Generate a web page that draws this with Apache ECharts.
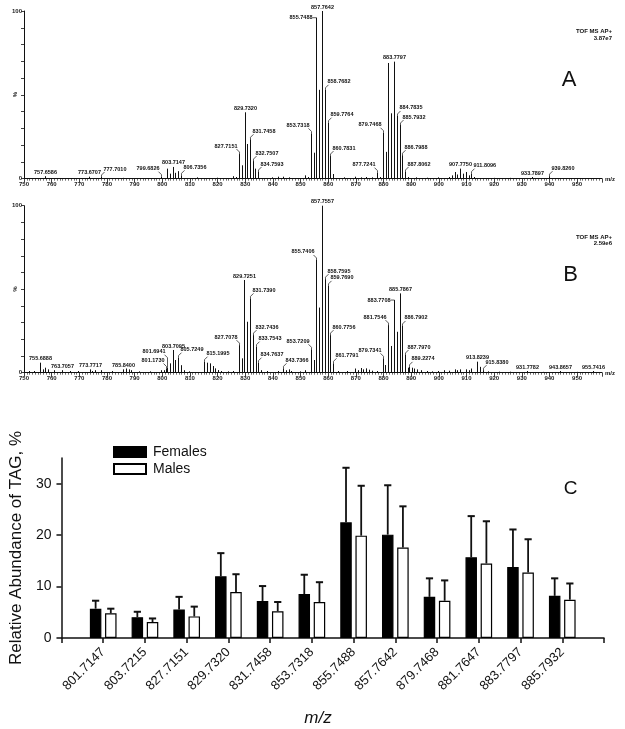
<!DOCTYPE html>
<html><head><meta charset="utf-8">
<script src="https://cdn.jsdelivr.net/npm/echarts@6/dist/echarts.min.js"></script>
<style>html,body{margin:0;padding:0;background:#fff}#c{width:625px;height:729px}</style>
</head><body><div id="c"></div>
<script>
const FONT = '"Liberation Sans", Arial, Helvetica, sans-serif';

// ---------- Panel A spectrum ----------
const peaksA_mz = [757.6586,773.6707,777.7010,785.7,799.6826,801.7,802.7,803.7147,804.7,805.7,806.7356,812.7,819.7,825.7,826.7,827.7151,828.7,829.7320,830.7,831.7458,832.7507,833.7,834.7593,839.7,841.7,843.7,845.7,851.7,852.7,853.7318,854.7,855.7488,856.75,857.7642,858.7682,859.7764,860.7831,861.8,865.7,869.7,871.7,873.7,875.7,877.7241,878.7,879.7468,880.75,881.78,882.78,883.7797,884.7835,885.7932,886.7988,887.8062,888.8,891.7,895.7,899.7,903.7,904.7,905.7,906.7,907.7750,908.8,909.8,910.8,911.8096,912.8,919.8,925.8,933.7897,939.8260];
const peaksA_int = [1.5,1.2,1.0,0.5,1.2,6,3,7,3.5,4.5,2,0.8,0.6,1.5,1,14.7,8,39.6,20.7,23.5,10.5,6,4,0.8,1.2,1.2,0.8,2,1,27,15.5,96,53,100,53,33.4,13.5,2.8,0.8,1.2,0.8,1,0.8,3.6,1,27.4,16,69,39,69.8,37.4,32,14,4,1,0.8,0.6,0.8,1,2,4,2.5,6,3,4,2,3,1,0.5,0.5,1,1.5];
const labelsA_mz = [757.6586,773.6707,777.7010,799.6826,803.7147,806.7356,827.7151,829.7320,831.7458,832.7507,834.7593,853.7318,855.7488,857.7642,858.7682,859.7764,860.7831,877.7241,879.7468,883.7797,884.7835,885.7932,886.7988,887.8062,907.7750,911.8096,933.7897,939.8260];
const labelsA_side = ['T','T','R','L','T','R','L','T','R','R','R','L','H','T','R','R','R','L','L','T','R','R','R','R','T','R','T','R'];

// ---------- Panel B spectrum ----------
const peaksB_mz = [751.7,753.7,755.6888,756.7,757.7,758.7,760.7,763.7057,766.7,769.7,773.7717,774.7,775.7,777.7,781.7,785.8400,786.8,787.8,788.8,791.7,795.7,799.7,800.7,801.1730,801.6941,802.7,803.7095,804.7,805.7249,806.7,807.7,809.7,815.1995,816.2,817.2,818.2,819.2,820.2,821.2,823.7,825.7,827.7078,828.7,829.7251,830.7,831.7390,832.7436,833.7543,834.7637,835.7,837.7,841.7,843.7366,844.7,845.7,846.7,849.7,851.7,853.7209,854.7,855.7406,856.75,857.7557,858.7595,859.7690,860.7756,861.7791,863.7,866.7,869.7,870.7,871.7,872.7,873.7,874.7,875.7,877.7,879.7341,880.7,881.7546,882.76,883.7708,884.78,885.7867,886.7902,887.7970,888.8,889.2274,890.2,891.2,892.2,893.7,895.7,897.7,899.7,901.7,903.7,905.7,906.7,907.7,909.7,910.8,911.8,913.8239,914.8,915.8380,917.8,921.8,925.8,931.7782,937.8,943.8657,949.8,955.7416];
const peaksB_int = [1,1,6,2,3,2,1.5,1.5,1,1,2,1,1.5,1.5,1,2,2.5,2,1.5,0.8,0.8,1.5,1.5,2.5,3,5.6,13.6,7.6,9,4.5,1.5,0.8,6.6,6,5.6,4,2.6,1.6,1,0.8,1,16.5,8.6,55.5,30.5,44.5,22.5,15.6,6,1.5,1,1,2.6,1.5,2,1,0.8,1.5,14,7.6,67.5,39,100,56,52,22.5,5.6,1,1,2.5,1.5,2.8,2,2.6,1.8,1.2,1,8.6,4.6,28.5,16,43.5,24.5,47.5,28,10.6,3,3.5,3,2.5,2,1.5,1,0.8,1,1.5,1.2,2,1.5,2,2,1.5,2.5,6.6,3.5,1.5,0.8,0.6,0.6,1,0.5,1,0.5,1];
const labelsB_mz = [755.6888,763.7057,773.7717,785.8400,801.1730,801.6941,803.7095,805.7249,815.1995,827.7078,829.7251,831.7390,832.7436,833.7543,834.7637,843.7366,853.7209,855.7406,857.7557,858.7595,859.7690,860.7756,861.7791,879.7341,881.7546,883.7708,885.7867,886.7902,887.7970,889.2274,913.8239,915.8380,931.7782,943.8657,955.7416];
const labelsB_side = ['T','T','T','T','L','L2','T','R','R','L','T','R','R','R','R','R','L','L','T','R','R','R','R','L','L','H','T','R','R','R','T','R','T','T','T'];

// ---------- Panel C bars ----------
const categories = ['801.7147','803.7215','827.7151','829.7320','831.7458','853.7318','855.7488','857.7642','879.7468','881.7647','883.7797','885.7932'];
const females    = [5.7, 4.05, 5.55, 12.0, 7.2, 8.55, 22.5, 20.1, 8.0, 15.7, 13.8, 8.2];
const femalesErr = [7.25, 5.1, 8.0, 16.5, 10.1, 12.3, 33.1, 29.7, 11.6, 23.7, 21.1, 11.6];
const males      = [4.8, 3.1, 4.2, 8.95, 5.2, 7.0, 19.9, 17.6, 7.25, 14.5, 12.75, 7.45];
const malesErr   = [5.7, 3.8, 6.1, 12.4, 7.0, 10.85, 29.6, 25.6, 11.2, 22.7, 19.2, 10.6];

const SIDES = ['', 'T', 'R', 'L', 'H', 'L2'];
function spectrumData(mz, inten, labMz, labSide) {
  return mz.map((m, i) => {
    const k = labMz.indexOf(m);
    return [m, inten[i], k >= 0 ? SIDES.indexOf(labSide[k]) : 0];
  });
}

const INK = '#111';
function renderPeak(params, api) {
  const m = api.value(0), v = api.value(1), side = api.value(2);
  const b = api.coord([m, 0]), t = api.coord([m, v]);
  const x = Math.round(b[0]) + 0.5;
  const y0 = b[1], y1 = t[1];
  const children = [{ type: 'line', shape: { x1: x, y1: y0, x2: x, y2: y1 }, style: { stroke: INK, lineWidth: 1 } }];
  if (side) {
    const txt = m.toFixed(4);
    const ts = { text: txt, fill: INK, fontSize: 5.5, fontWeight: 'bold', fontFamily: FONT };
    const lead = { stroke: INK, lineWidth: 0.7, fill: null };
    const s = SIDES[side];
    if (s === 'T') {
      children.push({ type: 'text', x: x, y: y1 - 1, style: Object.assign({ align: 'center', verticalAlign: 'bottom' }, ts) });
    } else if (s === 'R') {
      children.push({ type: 'polyline', shape: { points: [[x, y1], [x, y1 - 2], [x + 3, y1 - 5]] }, style: lead });
      children.push({ type: 'text', x: x + 2, y: y1 - 5, style: Object.assign({ align: 'left', verticalAlign: 'bottom' }, ts) });
    } else if (s === 'L' || s === 'L2') {
      const up = s === 'L2' ? 8 : 0;
      children.push({ type: 'polyline', shape: { points: [[x, y1], [x, y1 - 2 - up], [x - 3, y1 - 5 - up]] }, style: lead });
      children.push({ type: 'text', x: x - 2, y: y1 - 5 - up, style: Object.assign({ align: 'right', verticalAlign: 'bottom' }, ts) });
    } else if (s === 'H') {
      children.push({ type: 'polyline', shape: { points: [[x, y1], [x - 4, y1]] }, style: lead });
      children.push({ type: 'text', x: x - 4, y: y1, style: Object.assign({ align: 'right', verticalAlign: 'middle' }, ts) });
    }
  }
  return { type: 'group', children };
}

const BAR_W = 11.5, BAR_GAP = 0.32;
const HALF = BAR_W * (1 + BAR_GAP) / 2;
function renderErr(params, api) {
  const c = api.value(0), m = api.value(1), e = api.value(2), s = api.value(3);
  const p = api.coord([c, m]), q = api.coord([c, e]);
  const x = p[0] + s * HALF;
  return { type: 'group', children: [
    { type: 'line', shape: { x1: x, y1: p[1], x2: x, y2: q[1] }, style: { stroke: INK, lineWidth: 1.8 } },
    { type: 'line', shape: { x1: x - 3.6, y1: q[1], x2: x + 3.6, y2: q[1] }, style: { stroke: INK, lineWidth: 2 } }
  ] };
}

function specX(gi) {
  return {
    gridIndex: gi, type: 'value', min: 750, max: 959, interval: 10,
    axisLine: { lineStyle: { color: INK, width: 1 } },
    axisTick: { length: 4, lineStyle: { color: INK, width: 0.8 } },
    minorTick: { show: true, splitNumber: 10, length: 2, lineStyle: { color: INK, width: 0.6 } },
    splitLine: { show: false }, minorSplitLine: { show: false },
    axisLabel: { fontSize: 6, fontWeight: 'bold', color: '#222', fontFamily: FONT, margin: 3,
      formatter: v => (v % 10 === 0 && v <= 950) ? String(v) : '' }
  };
}
function specY(gi) {
  return {
    gridIndex: gi, type: 'value', min: 0, max: 100, interval: 10,
    axisLine: { show: true, lineStyle: { color: INK, width: 1 } },
    axisTick: { show: true, length: 3, lineStyle: { color: INK, width: 0.8 } },
    splitLine: { show: false },
    axisLabel: { fontSize: 6, fontWeight: 'bold', color: '#222', fontFamily: FONT, margin: 2,
      formatter: v => (v === 0 || v === 100) ? String(v) : '' }
  };
}

const chart = echarts.init(document.getElementById('c'), null, { renderer: 'canvas' });
chart.setOption({
  animation: false,
  backgroundColor: '#fff',
  textStyle: { fontFamily: FONT },
  grid: [
    { left: 24, right: 23, top: 11, height: 167.7 },
    { left: 24, right: 23, top: 205.7, height: 167 },
    { left: 60.7, right: 21, top: 458, bottom: 91 }
  ],
  xAxis: [
    specX(0), specX(1),
    { gridIndex: 2, type: 'category', data: [''].concat(categories, ['']), boundaryGap: false,
      axisLine: { lineStyle: { color: INK, width: 1.5 } },
      axisTick: { length: 5, interval: 0, lineStyle: { color: INK, width: 1.5 } },
      axisLabel: { interval: 0, rotate: 45, fontSize: 13, color: INK, fontFamily: FONT, margin: 12 } }
  ],
  yAxis: [
    specY(0), specY(1),
    { gridIndex: 2, type: 'value', min: 0, max: 35, interval: 10,
      axisLine: { show: true, lineStyle: { color: INK, width: 1.5 } },
      axisTick: { show: true, length: 5, lineStyle: { color: INK, width: 1.5 } },
      splitLine: { show: false },
      axisLabel: { fontSize: 14, color: INK, fontFamily: FONT, margin: 10, showMaxLabel: false,
        formatter: v => (v % 10 === 0) ? String(v) : '' },
      name: 'Relative Abundance of TAG, %', nameLocation: 'middle', nameGap: 35,
      nameTextStyle: { fontSize: 17, color: INK, fontFamily: FONT } }
  ],
  legend: {
    data: ['Females', 'Males'], orient: 'vertical', left: 113, top: 445, padding: 0,
    itemWidth: 32, itemHeight: 10, itemGap: 3, icon: 'rect',
    textStyle: { fontSize: 14, lineHeight: 14, color: INK, fontFamily: FONT, padding: [0, 0, 0, 2] }
  },
  series: [
    { type: 'custom', xAxisIndex: 0, yAxisIndex: 0, renderItem: renderPeak, encode: { x: 0, y: 1 },
      data: spectrumData(peaksA_mz, peaksA_int, labelsA_mz, labelsA_side), silent: true },
    { type: 'custom', xAxisIndex: 1, yAxisIndex: 1, renderItem: renderPeak, encode: { x: 0, y: 1 },
      data: spectrumData(peaksB_mz, peaksB_int, labelsB_mz, labelsB_side), silent: true },
    { type: 'bar', name: 'Females', xAxisIndex: 2, yAxisIndex: 2, barWidth: BAR_W, barGap: (BAR_GAP * 100) + '%',
      data: [null].concat(females, [null]),
      itemStyle: { color: '#000', borderColor: '#000', borderWidth: 1.2 } },
    { type: 'bar', name: 'Males', xAxisIndex: 2, yAxisIndex: 2, barWidth: BAR_W,
      data: [null].concat(males, [null]),
      itemStyle: { color: '#fff', borderColor: '#000', borderWidth: 1.2 } },
    { type: 'custom', xAxisIndex: 2, yAxisIndex: 2, renderItem: renderErr, encode: { x: 0, y: [1, 2] }, silent: true,
      data: females.map((v, i) => [i + 1, v, femalesErr[i], -1]).concat(males.map((v, i) => [i + 1, v, malesErr[i], 1])) }
  ],
  graphic: [
    { type: 'text', x: 612, y: 31.7, style: { text: 'TOF MS AP+', align: 'right', verticalAlign: 'middle', fontSize: 6, fontWeight: 'bold', fill: INK, fontFamily: FONT } },
    { type: 'text', x: 612, y: 37.9, style: { text: '3.87e7', align: 'right', verticalAlign: 'middle', fontSize: 6, fontWeight: 'bold', fill: INK, fontFamily: FONT } },
    { type: 'text', x: 612, y: 237.7, style: { text: 'TOF MS AP+', align: 'right', verticalAlign: 'middle', fontSize: 6, fontWeight: 'bold', fill: INK, fontFamily: FONT } },
    { type: 'text', x: 612, y: 243.5, style: { text: '2.59e6', align: 'right', verticalAlign: 'middle', fontSize: 6, fontWeight: 'bold', fill: INK, fontFamily: FONT } },
    { type: 'text', x: 569, y: 79.5, style: { text: 'A', align: 'center', verticalAlign: 'middle', fontSize: 22, fill: INK, fontFamily: FONT } },
    { type: 'text', x: 570.5, y: 275, style: { text: 'B', align: 'center', verticalAlign: 'middle', fontSize: 22, fill: INK, fontFamily: FONT } },
    { type: 'text', x: 570.5, y: 488.5, style: { text: 'C', align: 'center', verticalAlign: 'middle', fontSize: 19, fill: INK, fontFamily: FONT } },
    { type: 'text', x: 605, y: 179, style: { text: 'm/z', align: 'left', verticalAlign: 'middle', fontSize: 6, fontWeight: 'bold', fill: INK, fontFamily: FONT } },
    { type: 'text', x: 605, y: 373, style: { text: 'm/z', align: 'left', verticalAlign: 'middle', fontSize: 6, fontWeight: 'bold', fill: INK, fontFamily: FONT } },
    { type: 'text', x: 15, y: 94.5, rotation: Math.PI / 2, style: { text: '%', align: 'center', verticalAlign: 'middle', fontSize: 6, fontWeight: 'bold', fill: INK, fontFamily: FONT } },
    { type: 'text', x: 15, y: 289, rotation: Math.PI / 2, style: { text: '%', align: 'center', verticalAlign: 'middle', fontSize: 6, fontWeight: 'bold', fill: INK, fontFamily: FONT } },
    { type: 'text', x: 318, y: 718, style: { text: 'm/z', align: 'center', verticalAlign: 'middle', fontSize: 17, fontStyle: 'italic', fill: INK, fontFamily: FONT } }
  ]
});
</script></body></html>
